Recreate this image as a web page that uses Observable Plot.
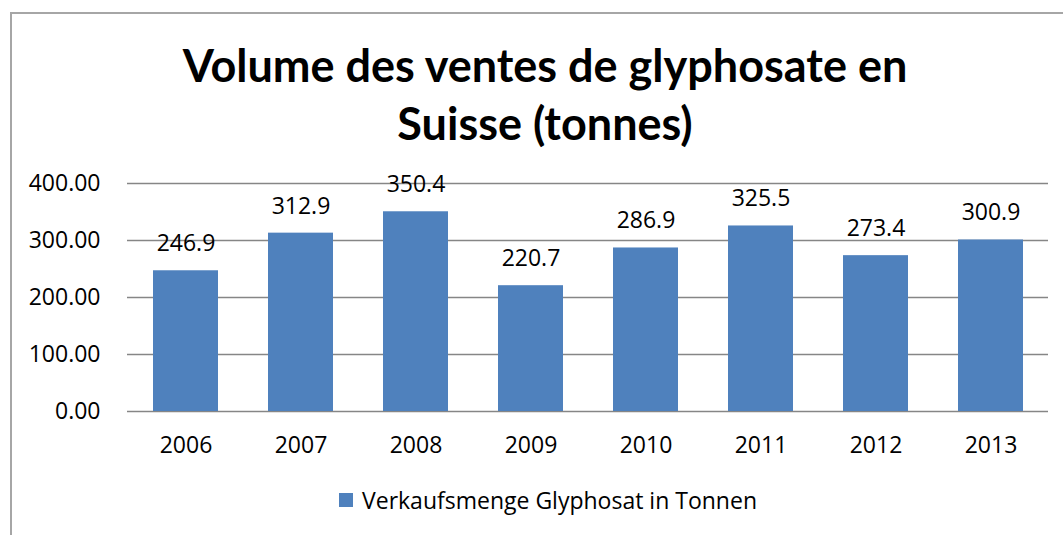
<!DOCTYPE html>
<html>
<head>
<meta charset="utf-8">
<script src="https://cdn.jsdelivr.net/npm/d3@7"></script>
<script src="https://cdn.jsdelivr.net/npm/@observablehq/plot@0.6"></script>
<style>
  html, body { margin: 0; padding: 0; background: #fff; width: 1063px; height: 535px; overflow: hidden; }
  body { position: relative; font-family: "Open Sans", Lato, sans-serif; color: #000; }
  #frame { position: absolute; left: 10px; top: 12px; width: 1051px; height: 521px;
           border-left: 2px solid #a6a6a6; border-top: 2px solid #a6a6a6; }
  #title { position: absolute; left: 0; width: 1090px; top: 36px; text-align: center;
           font-family: Lato, sans-serif; font-weight: bold; font-size: 45px; line-height: 58px; }
  #chart { position: absolute; left: 0; top: 160px; width: 1063px; }
  #chart svg { max-width: none !important; }
  #legend { position: absolute; top: 484px; left: 339px; font-size: 23px; display: flex; align-items: center; white-space: nowrap; }
  #legend .sw { width: 14px; height: 14px; background: #4f81bd; margin-right: 9px; }
</style>
</head>
<body>
<div id="frame"></div>
<div id="title">Volume des ventes de glyphosate en<br>Suisse (tonnes)</div>
<div id="chart"></div>
<div id="legend"><span class="sw"></span><span id="legendText"></span></div>
<script>
const years = ["2006", "2007", "2008", "2009", "2010", "2011", "2012", "2013"];
const tonnes = [246.9, 312.9, 350.4, 220.7, 286.9, 325.5, 273.4, 300.9];
const yTicks = [0, 100, 200, 300, 400];
const seriesName = "Verkaufsmenge Glyphosat in Tonnen";

document.getElementById("legendText").textContent = seriesName;
const data = years.map((y, i) => ({year: y, value: tonnes[i]}));

const chart = Plot.plot({
  width: 1063,
  height: 300,
  marginLeft: 127,
  marginRight: 15,
  marginTop: 23,
  marginBottom: 49,
  style: {fontFamily: "'Open Sans', Lato, sans-serif", fontSize: "23px", color: "#000", background: "transparent", maxWidth: "none"},
  x: {domain: years, paddingInner: 0.435, paddingOuter: 0.2175, align: 0.5, label: null, tickSize: 0, tickPadding: 25},
  y: {domain: [0, 400], ticks: yTicks, tickFormat: d => d.toFixed(2), label: null, tickSize: 0, tickPadding: 27},
  marks: [
    Plot.ruleY(yTicks, {stroke: "#868686", strokeWidth: 1.5}),
    Plot.barY(data, {x: "year", y: "value", fill: "#4f81bd"}),
    Plot.text(data, {x: "year", y: "value", text: d => d.value.toFixed(1), dy: -27, fill: "#000", fontSize: 23})
  ]
});
document.getElementById("chart").appendChild(chart);
</script>
</body>
</html>
